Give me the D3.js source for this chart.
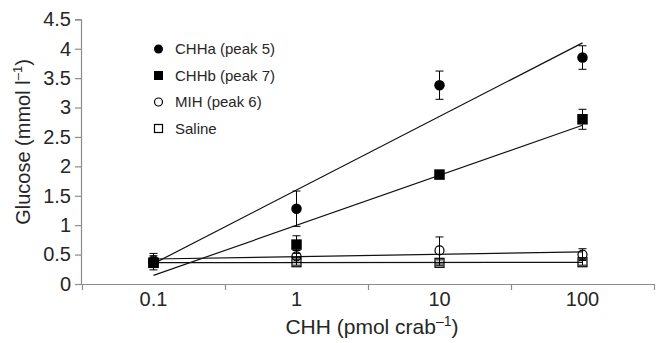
<!DOCTYPE html>
<html>
<head>
<meta charset="utf-8">
<script src="https://cdn.jsdelivr.net/npm/d3@7/dist/d3.min.js"></script>
<style>
  html, body { margin: 0; padding: 0; background: #fff; }
  svg { display: block; font-family: "Liberation Sans", Arial, Helvetica, sans-serif; }
</style>
</head>
<body>
<svg id="chart" width="659" height="343"></svg>
<script>
// Doses (pmol per crab), plotted as evenly spaced categories
const doses = ["0.1", "1", "10", "100"];

// Mean haemolymph glucose (mmol l-1) and error bar half-widths
const chhaValues   = [0.38, 1.28, 3.38, 3.85];
const chhaErrors   = [0.14, 0.30, 0.24, 0.20];
const chhbValues   = [0.36, 0.67, 1.86, 2.80];
const chhbErrors   = [0.05, 0.15, 0.03, 0.17];
const mihValues    = [0.40, 0.47, 0.57, 0.50];
const mihErrors    = [0.08, 0.10, 0.23, 0.10];
const salineValues = [0.36, 0.37, 0.36, 0.37];
const salineErrors = [0.04, 0.05, 0.05, 0.05];

const seriesNames = ["CHHa (peak 5)", "CHHb (peak 7)", "MIH (peak 6)", "Saline"];
const yTickLabels = ["0", "0.5", "1", "1.5", "2", "2.5", "3", "3.5", "4", "4.5"];

const series = [
  { name: seriesNames[0], values: chhaValues,   errors: chhaErrors,   shape: "circle", filled: true },
  { name: seriesNames[1], values: chhbValues,   errors: chhbErrors,   shape: "square", filled: true },
  { name: seriesNames[2], values: mihValues,    errors: mihErrors,    shape: "circle", filled: false },
  { name: seriesNames[3], values: salineValues, errors: salineErrors, shape: "square", filled: false }
];

const svg = d3.select("#chart");
const axisGrey = "#8c8c8c";
const textCol = "#262626";

const x = d3.scaleBand().domain(doses).range([82, 654]);
const xEdges = d3.scaleLinear().domain([0, doses.length]).range([82, 654]);
const y = d3.scaleLinear().domain([0, 4.5]).range([284, 19.3]);
const cx = d => x(d) + x.bandwidth() / 2;

// Y axis
const yAxis = svg.append("g")
  .attr("transform", `translate(${x.range()[0] - 1},0)`)
  .call(d3.axisLeft(y)
    .tickValues(yTickLabels.map(Number))
    .tickFormat((d, i) => yTickLabels[i])
    .tickSize(6).tickPadding(4));
yAxis.select(".domain").attr("stroke", axisGrey).attr("stroke-width", 1.2);
yAxis.selectAll(".tick line").attr("stroke", axisGrey).attr("stroke-width", 1.2);
yAxis.selectAll(".tick text").attr("fill", textCol).attr("font-size", 20)
  .attr("font-family", "Liberation Sans, Arial, sans-serif");

// X axis: tick marks at the category boundaries, labels centred in each band
const xTicks = svg.append("g")
  .attr("transform", `translate(0,${y(0)})`)
  .call(d3.axisBottom(xEdges).tickValues(d3.range(doses.length + 1)).tickFormat("").tickSize(6).tickSizeOuter(0));
xTicks.select(".domain").attr("stroke", axisGrey).attr("stroke-width", 1.2);
xTicks.selectAll(".tick line").attr("stroke", axisGrey).attr("stroke-width", 1.2);

const xLabels = svg.append("g")
  .attr("transform", `translate(0,${y(0)})`)
  .call(d3.axisBottom(x).tickSize(0).tickPadding(8));
xLabels.select(".domain").remove();
xLabels.selectAll(".tick text").attr("fill", textCol).attr("font-size", 20)
  .attr("font-family", "Liberation Sans, Arial, sans-serif");

// Axis titles
const yTitle = svg.append("text")
  .attr("transform", "translate(30,142) rotate(-90)")
  .attr("text-anchor", "middle")
  .attr("fill", textCol).attr("font-size", 20);
yTitle.append("tspan").text("Glucose (mmol l");
yTitle.append("tspan").attr("font-size", 13).attr("dy", -8).text("–1");
yTitle.append("tspan").attr("dy", 8).text(")");

const xTitle = svg.append("text")
  .attr("x", 372).attr("y", 334)
  .attr("text-anchor", "middle")
  .attr("fill", textCol).attr("font-size", 21);
xTitle.append("tspan").text("CHH (pmol crab");
xTitle.append("tspan").attr("font-size", 14).attr("dy", -8).text("–1");
xTitle.append("tspan").attr("dy", 8).text(")");

// Least-squares trend line against category position
function fit(values) {
  const xs = values.map((_, i) => i);
  const mx = d3.mean(xs), my = d3.mean(values);
  const slope = d3.sum(xs, (xi, i) => (xi - mx) * (values[i] - my)) / d3.sum(xs, xi => (xi - mx) ** 2);
  return i => my + slope * (i - mx);
}

const plot = svg.append("g");

series.forEach(s => {
  const f = fit(s.values);
  plot.append("line")
    .attr("x1", cx(doses[0])).attr("y1", y(f(0)))
    .attr("x2", cx(doses[doses.length - 1])).attr("y2", y(f(doses.length - 1)))
    .attr("stroke", "#111").attr("stroke-width", 1.2);
});

function drawMarker(g, shape, filled, px, py, size) {
  const fill = filled ? "#000" : "none";
  if (shape === "circle") {
    g.append("circle").attr("cx", px).attr("cy", py).attr("r", size / 2)
      .attr("fill", fill).attr("stroke", "#000").attr("stroke-width", filled ? 0 : 1.2);
  } else {
    g.append("rect").attr("x", px - size / 2).attr("y", py - size / 2)
      .attr("width", size).attr("height", size)
      .attr("fill", fill).attr("stroke", "#000").attr("stroke-width", filled ? 0 : 1.2);
  }
}

series.forEach(s => {
  s.values.forEach((v, i) => {
    const px = cx(doses[i]);
    const e = s.errors[i];
    const top = y(v + e), bot = y(v - e);
    plot.append("line").attr("x1", px).attr("x2", px).attr("y1", top).attr("y2", bot)
      .attr("stroke", "#000").attr("stroke-width", 1);
    [top, bot].forEach(yy => plot.append("line")
      .attr("x1", px - 4).attr("x2", px + 4).attr("y1", yy).attr("y2", yy)
      .attr("stroke", "#000").attr("stroke-width", 1));
    drawMarker(plot, s.shape, s.filled, px, y(v), s.filled ? 10.5 : 9);
  });
});

// Legend
const legend = svg.append("g");
const legendRows = [49, 75.5, 102, 128.5];
series.forEach((s, i) => {
  drawMarker(legend, s.shape, s.filled, 158.5, legendRows[i], s.filled ? 9 : 8);
  legend.append("text").attr("x", 175).attr("y", legendRows[i]).attr("dy", "0.36em")
    .attr("fill", textCol).attr("font-size", 15).text(s.name);
});
</script>
</body>
</html>
